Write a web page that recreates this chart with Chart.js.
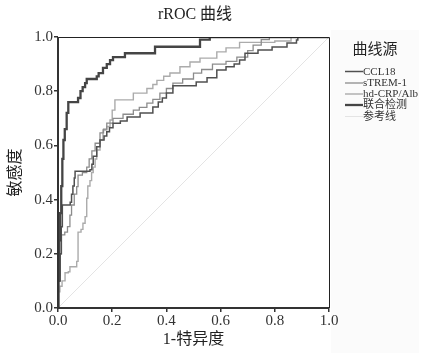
<!DOCTYPE html>
<html><head><meta charset="utf-8">
<script src="https://cdn.jsdelivr.net/npm/chart.js@4"></script>
<style>html,body{margin:0;padding:0;background:#fff}#wrap{width:426px;height:353px}</style>
</head><body><div id="wrap"><canvas id="c" width="426" height="353"></canvas></div>
<script>
const chartTitle = "rROC 曲线";
const xTitle = "1-特异度";
const yTitle = "敏感度";
const legendTitle = "曲线源";
const seriesNames = ["CCL18", "sTREM-1", "hd-CRP/Alb", "联合检测", "参考线"];
const tickValues = [0, 0.2, 0.4, 0.6, 0.8, 1.0];

const ccl18Fpr = [0,0.003,0.008,0.012,0.016,0.045,0.05,0.055,0.06,0.063,0.118,0.125,0.13,0.143,0.155,0.17,0.18,0.19,0.203,0.23,0.255,0.303,0.35,0.37,0.385,0.4,0.424,0.51,0.55,0.586,0.62,0.65,0.67,0.69,0.738,0.79,0.845,0.88,0.885,1];
const ccl18Tpr = [0,0.1,0.2,0.3,0.38,0.39,0.42,0.45,0.48,0.505,0.51,0.53,0.56,0.595,0.62,0.635,0.65,0.665,0.682,0.69,0.705,0.72,0.742,0.76,0.775,0.793,0.82,0.834,0.85,0.878,0.89,0.9,0.915,0.94,0.952,0.963,0.978,0.989,1,1];

const strem1Fpr = [0,0.003,0.008,0.013,0.025,0.035,0.044,0.05,0.06,0.069,0.074,0.09,0.106,0.115,0.125,0.137,0.155,0.168,0.18,0.203,0.24,0.278,0.3,0.328,0.35,0.376,0.4,0.424,0.46,0.5,0.53,0.57,0.62,0.66,0.7,0.72,0.75,0.78,1];
const strem1Tpr = [0,0.12,0.2,0.27,0.28,0.3,0.343,0.38,0.42,0.448,0.49,0.5,0.52,0.55,0.58,0.608,0.646,0.66,0.682,0.7,0.715,0.73,0.74,0.756,0.77,0.793,0.81,0.83,0.845,0.867,0.88,0.9,0.91,0.926,0.95,0.97,0.99,1,1];

const crpFpr = [0,0,0.007,0.015,0.026,0.038,0.044,0.069,0.074,0.085,0.092,0.1,0.106,0.11,0.118,0.124,0.13,0.137,0.143,0.155,0.166,0.18,0.192,0.2,0.21,0.278,0.328,0.35,0.365,0.39,0.413,0.45,0.487,0.524,0.586,0.62,0.67,0.8,0.86,1];
const crpTpr = [0,0.06,0.08,0.1,0.13,0.134,0.152,0.172,0.28,0.29,0.313,0.337,0.405,0.45,0.47,0.5,0.52,0.55,0.583,0.62,0.657,0.67,0.694,0.73,0.768,0.793,0.81,0.825,0.84,0.855,0.867,0.89,0.908,0.922,0.945,0.96,0.98,0.985,1,1];

const combFpr = [0,0,0.004,0.008,0.012,0.016,0.02,0.025,0.032,0.038,0.074,0.083,0.091,0.1,0.106,0.143,0.15,0.166,0.18,0.192,0.203,0.247,0.358,0.524,0.56,1];
const combTpr = [0,0.1,0.25,0.35,0.45,0.55,0.62,0.66,0.72,0.76,0.775,0.8,0.815,0.83,0.845,0.855,0.867,0.886,0.9,0.915,0.926,0.94,0.964,0.99,1,1];

const refFpr = [0, 1];
const refTpr = [0, 1];

const colors = ["#505050", "#8c8c8c", "#ababab", "#454545", "#e4e4e4"];
const widths = [1.5, 1.3, 1.4, 2.3, 1];

function pts(xs, ys){ return xs.map((x,i)=>({x:x, y:ys[i]})); }

const FONT = "'Liberation Serif', 'Noto Sans CJK SC', serif";

const overlay = {
  id: 'overlay',
  beforeDraw(chart){
    const ctx = chart.ctx;
    ctx.save();
    ctx.fillStyle = '#ffffff';
    ctx.fillRect(0,0,chart.width,chart.height);
    ctx.fillStyle = '#fbfbfb';
    ctx.fillRect(331, 30, 88, 323);
    ctx.restore();
  },
  afterDraw(chart){
    const ctx = chart.ctx, a = chart.chartArea;
    ctx.save();
    ctx.strokeStyle = '#222';
    ctx.lineWidth = 1;
    ctx.beginPath();
    ctx.moveTo(a.left, a.top + 0.5); ctx.lineTo(a.right + 0.5, a.top + 0.5); ctx.lineTo(a.right + 0.5, a.bottom);
    ctx.stroke();
    ctx.lineWidth = 2;
    ctx.strokeStyle = '#333';
    ctx.beginPath();
    ctx.moveTo(a.left, a.top); ctx.lineTo(a.left, a.bottom); ctx.lineTo(a.right, a.bottom);
    ctx.stroke();
    ctx.fillStyle = '#222';
    ctx.font = '16px ' + FONT;
    ctx.textAlign = 'center';
    ctx.textBaseline = 'middle';
    ctx.fillText(chartTitle, 195, 15);
    ctx.font = '15px ' + FONT;
    ctx.fillText(legendTitle, 375, 50);
    ctx.textAlign = 'left';
    ctx.font = '11px ' + FONT;
    const ys = [71.5, 83, 94, 105, 116.5];
    chart.data.datasets.forEach((ds, i) => {
      const y = ys[i];
      ctx.strokeStyle = ds.borderColor;
      ctx.lineWidth = ds.borderWidth;
      ctx.beginPath(); ctx.moveTo(345, y); ctx.lineTo(363, y); ctx.stroke();
      ctx.fillStyle = '#333';
      ctx.fillText(ds.label, 363, y + 0.5);
    });
    ctx.restore();
  }
};

const names = seriesNames;
new Chart(document.getElementById('c'), {
  type: 'line',
  data: {
    datasets: [
      {label: names[0], data: pts(ccl18Fpr, ccl18Tpr), borderColor: colors[0], borderWidth: widths[0], stepped: true, order: 2},
      {label: names[1], data: pts(strem1Fpr, strem1Tpr), borderColor: colors[1], borderWidth: widths[1], stepped: true, order: 3},
      {label: names[2], data: pts(crpFpr, crpTpr), borderColor: colors[2], borderWidth: widths[2], stepped: true, order: 4},
      {label: names[3], data: pts(combFpr, combTpr), borderColor: colors[3], borderWidth: widths[3], stepped: true, order: 1},
      {label: names[4], data: pts(refFpr, refTpr), borderColor: colors[4], borderWidth: widths[4], order: 5}
    ].map(d=>Object.assign(d,{pointRadius:0, fill:false}))
  },
  options: {
    responsive: false,
    animation: false,
    layout: {padding: {top: 37, right: 97, left: 0, bottom: 0}},
    plugins: {legend: {display: false}, tooltip: {enabled: false}, title: {display: false}},
    scales: {
      x: {
        type: 'linear', min: 0, max: 1,
        afterFit(s){ s.height = 45; },
        afterBuildTicks(s){ s.ticks = tickValues.map(v=>({value:v})); },
        grid: {display: true, drawOnChartArea: false, drawTicks: true, tickLength: 4, color: '#333', lineWidth: 1.5},
        border: {display: false},
        ticks: {color: '#333', font: {family: FONT, size: 15}, padding: 0, maxRotation: 0, callback: v => v.toFixed(1)},
        title: {display: true, text: xTitle, color: '#222', font: {family: FONT, size: 16}, padding: {top: 0, bottom: 4}}
      },
      y: {
        type: 'linear', min: 0, max: 1,
        afterFit(s){ s.width = 58; },
        afterBuildTicks(s){ s.ticks = tickValues.map(v=>({value:v})); },
        grid: {display: true, drawOnChartArea: false, drawTicks: true, tickLength: 4, color: '#333', lineWidth: 1.5},
        border: {display: false},
        ticks: {color: '#333', font: {family: FONT, size: 15}, padding: 1, callback: v => v.toFixed(1)},
        title: {display: true, text: yTitle, color: '#222', font: {family: FONT, size: 16}, padding: {top: 6, bottom: 0}}
      }
    }
  },
  plugins: [overlay]
});
</script></body></html>
